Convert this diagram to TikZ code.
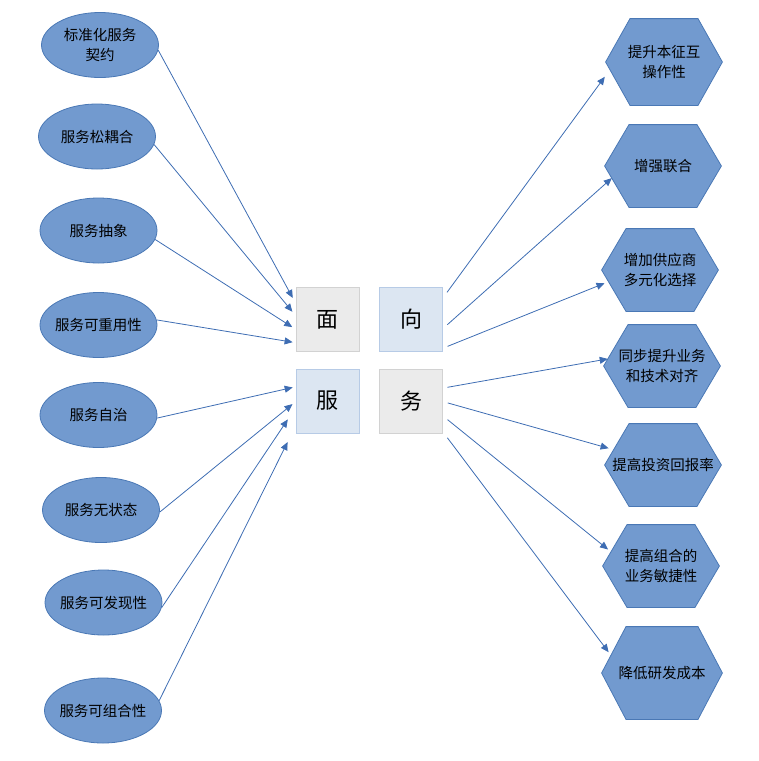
\documentclass[tikz,border=0pt]{standalone}
\usepackage{fontspec}
\setmainfont{Noto Sans CJK SC}
\usepackage{tikz}
\usetikzlibrary{shapes.geometric, arrows.meta, positioning}

\definecolor{fillblue}{HTML}{729ACF}
\definecolor{edgeblue}{HTML}{4A78B5}
\definecolor{arrowblue}{HTML}{3E6DB3}
\definecolor{cellgray}{HTML}{EBEBEB}
\definecolor{cellgrayedge}{HTML}{D2D2D2}
\definecolor{cellblue}{HTML}{DCE6F2}
\definecolor{cellblueedge}{HTML}{B7CBE6}
\newcommand\hexcut{25pt}

\begin{document}
\begin{tikzpicture}[
    x=1pt, y=-1pt,
    trait/.style={
        ellipse,
        draw=edgeblue,
        fill=fillblue,
        line width=0.8pt,
        minimum width=117pt,
        minimum height=65pt,
        inner xsep=-8pt,
        inner ysep=0pt,
        align=center,
        font=\fontsize{14.5}{20}\selectfont
    },
    gain/.style={
        rectangle,
        minimum width=118pt,
        minimum height=84pt,
        inner sep=0pt,
        align=center,
        font=\fontsize{14.5}{20}\selectfont,
        path picture={
            \draw[draw=edgeblue, fill=fillblue, line width=0.8pt]
                ([xshift=0.6pt]path picture bounding box.west)
                -- ([xshift=\hexcut, yshift=-0.6pt]path picture bounding box.north west)
                -- ([xshift=-\hexcut, yshift=-0.6pt]path picture bounding box.north east)
                -- ([xshift=-0.6pt]path picture bounding box.east)
                -- ([xshift=-\hexcut, yshift=0.6pt]path picture bounding box.south east)
                -- ([xshift=\hexcut, yshift=0.6pt]path picture bounding box.south west)
                -- cycle;
        }
    },
    cell/.style={
        rectangle,
        line width=0.8pt,
        minimum width=63pt,
        minimum height=64pt,
        font=\fontsize{22}{22}\selectfont
    },
    link/.style={draw=arrowblue, line width=0.8pt, -{Triangle[length=8pt, width=7pt]}}
]
\useasboundingbox (0,0) rectangle (759,761);

% centre
\node[cell, fill=cellgray, draw=cellgrayedge] (mian) at (327.5,319.5) {面};
\node[cell, fill=cellblue, draw=cellblueedge] (xiang) at (411,319.5) {向};
\node[cell, fill=cellblue, draw=cellblueedge] (fu) at (327.5,401) {服};
\node[cell, fill=cellgray, draw=cellgrayedge] (wu) at (411,401) {务};

% left
\node[trait] (std) at (100,45) {标准化服务\\契约};
\node[trait] (loose) at (97,136.5) {服务松耦合};
\node[trait] (abstr) at (98.5,230.5) {服务抽象};
\node[trait] (reuse) at (98.5,325) {服务可重用性};
\node[trait] (auton) at (98.5,415) {服务自治};
\node[trait] (stateless) at (101,510) {服务无状态};
\node[trait] (disc) at (103.5,602.5) {服务可发现性};
\node[trait] (comp) at (103,710.5) {服务可组合性};

% right
\node[gain, minimum height=88pt] (interop) at (664,62) {提升本征互\\操作性};
\node[gain] (fed) at (663,166) {增强联合};
\node[gain] (vendor) at (660,270) {增加供应商\\多元化选择};
\node[gain] (align) at (662,366) {同步提升业务\\和技术对齐};
\node[gain] (roi) at (663,465) {提高投资回报率};
\node[gain] (agile) at (661,566) {提高组合的\\业务敏捷性};
\node[gain, minimum width=122pt, minimum height=94pt] (cost) at (662,673) {降低研发成本};

\draw[link, shorten >=6pt] (std.-5) -- (mian.153);
\draw[link, shorten >=5pt] (loose.-8) -- (mian.173);
\draw[link, shorten >=4pt] (abstr.-9.5) -- (mian.197);
\draw[link, shorten >=3pt] (reuse.5) -- (mian.216);
\draw[link, shorten >=3pt] (auton.-3) -- (fu.156.5);
\draw[link, shorten >=4pt] (stateless.-2) -- (fu.181);
\draw[link, shorten >=14pt] (disc.-5) -- (fu.192.5);
\draw[link, shorten >=18pt] (comp.10) -- (fu.218);

\draw[link, shorten <=7pt] (xiang.34.5) -- (interop.194.3);
\draw[link, shorten <=6pt, shorten >=-10.7pt] (xiang.-16.6) -- (fed.198.7);
\draw[link, shorten <=5pt, shorten >=-4pt] (xiang.-42.9) -- (vendor.194);
\draw[link, shorten <=4.5pt, shorten >=-5pt] (wu.22.4) -- (align.174);
\draw[link, shorten <=5pt, shorten >=-5pt] (wu.-1) -- (roi.163.6);
\draw[link, shorten <=6pt, shorten >=-8pt] (wu.-25.6) -- (agile.160.4);
\draw[link, shorten <=7.5pt, shorten >=-13pt] (wu.-44) -- (cost.153.4);

\end{tikzpicture}
\end{document}
